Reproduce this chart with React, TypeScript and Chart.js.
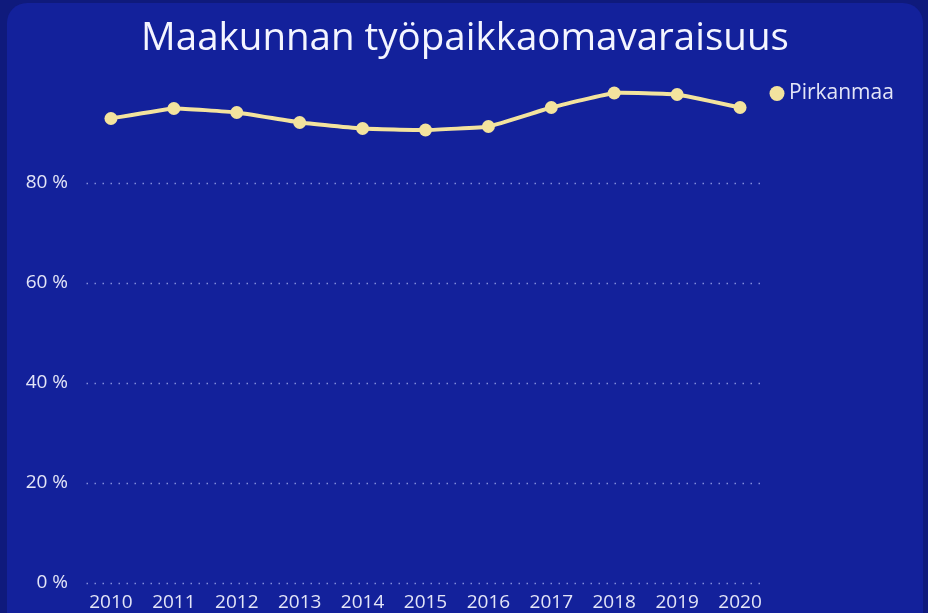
import React, { useEffect, useRef } from 'react';
import { Chart, registerables } from 'chart.js';

Chart.register(...registerables);

const titleText = 'Maakunnan työpaikkaomavaraisuus';
const seriesLabel = 'Pirkanmaa';
const years = ['2010', '2011', '2012', '2013', '2014', '2015', '2016', '2017', '2018', '2019', '2020'];
const pirkanmaa = [92.9, 94.9, 94.1, 92.1, 90.9, 90.6, 91.3, 95.1, 98.0, 97.7, 95.1];
const yTickValues = [0, 20, 40, 60, 80];

const LINE_COLOR = '#f3e39e';
const TEXT_COLOR = '#e3e5f7';
const FONT = "'Open Sans', 'Noto Sans', sans-serif";

const dottedGrid = {
  id: 'dottedGrid',
  beforeDatasetsDraw(chart: any) {
    const { ctx, chartArea } = chart;
    const y = chart.scales.y;
    ctx.save();
    ctx.strokeStyle = 'rgba(150,160,230,0.85)';
    ctx.lineWidth = 1.5;
    ctx.setLineDash([1.5, 6.5]);
    y.ticks.forEach((t: any) => {
      const py = Math.round(y.getPixelForValue(t.value)) + 0.5;
      ctx.beginPath();
      ctx.moveTo(chartArea.left + 7, py);
      ctx.lineTo(chartArea.right - 11, py);
      ctx.stroke();
    });
    ctx.restore();
  },
};

const sideLegend = {
  id: 'sideLegend',
  afterDraw(chart: any) {
    const { ctx, chartArea } = chart;
    const ds = chart.data.datasets[0];
    const cx = chartArea.right + 5.5;
    const cy = chartArea.top + 10.5;
    ctx.save();
    ctx.fillStyle = ds.backgroundColor;
    ctx.beginPath();
    ctx.arc(cx, cy, 7.5, 0, Math.PI * 2);
    ctx.fill();
    ctx.fillStyle = TEXT_COLOR;
    ctx.font = `21px ${FONT}`;
    ctx.textBaseline = 'middle';
    ctx.textAlign = 'left';
    ctx.fillText(ds.label, cx + 12, cy);
    ctx.restore();
  },
};

export default function App() {
  const ref = useRef<HTMLCanvasElement | null>(null);

  useEffect(() => {
    if (!ref.current) return;
    const chart = new Chart(ref.current, {
      type: 'line',
      data: {
        labels: years,
        datasets: [
          {
            label: seriesLabel,
            data: pirkanmaa,
            borderColor: LINE_COLOR,
            backgroundColor: LINE_COLOR,
            borderWidth: 4,
            pointRadius: 6.5,
            pointHoverRadius: 6.5,
            pointBackgroundColor: LINE_COLOR,
            pointBorderColor: LINE_COLOR,
            pointBorderWidth: 0,
            tension: 0.1,
          },
        ],
      },
      options: {
        responsive: false,
        animation: false,
        layout: { padding: { left: 0, right: 0, top: 0, bottom: 0 } },
        plugins: {
          legend: { display: false },
          tooltip: { enabled: false },
          title: {
            display: true,
            text: titleText,
            color: '#f4f5ff',
            font: { family: FONT, size: 38.5, weight: 'normal' },
            padding: { top: 13, bottom: 20.8 },
          },
        },
        scales: {
          x: {
            offset: true,
            grid: { display: false, drawTicks: false },
            border: { display: false },
            ticks: {
              color: TEXT_COLOR,
              font: { family: FONT, size: 19 },
              padding: 8,
              maxRotation: 0,
              autoSkip: false,
            },
            afterFit: (s: any) => {
              s.height = 30;
            },
          },
          y: {
            min: 0,
            max: 100,
            grid: { display: false, drawTicks: false },
            border: { display: false },
            ticks: {
              stepSize: 20,
              color: TEXT_COLOR,
              font: { family: FONT, size: 19 },
              padding: 11.5,
              callback: (v: any) => `${v} %`,
            },
            afterBuildTicks: (s: any) => {
              s.ticks = yTickValues.map((v) => ({ value: v }));
            },
            afterFit: (s: any) => {
              s.width = 72.5;
            },
          },
          yRight: {
            position: 'right',
            display: true,
            grid: { display: false, drawTicks: false },
            border: { display: false },
            ticks: { display: false },
            afterFit: (s: any) => {
              s.width = 151.5;
            },
          },
        },
      } as any,
      plugins: [dottedGrid, sideLegend],
    });
    return () => chart.destroy();
  }, []);

  return (
    <div style={{ position: 'fixed', inset: 0, background: '#0f1a7c', overflow: 'hidden' }}>
      <div
        style={{
          position: 'absolute',
          left: 7,
          top: 3,
          width: 916,
          height: 660,
          background: '#13219b',
          borderRadius: 20,
          overflow: 'hidden',
        }}
      >
        <canvas ref={ref} width={916} height={610} style={{ display: 'block' }} />
      </div>
    </div>
  );
}
